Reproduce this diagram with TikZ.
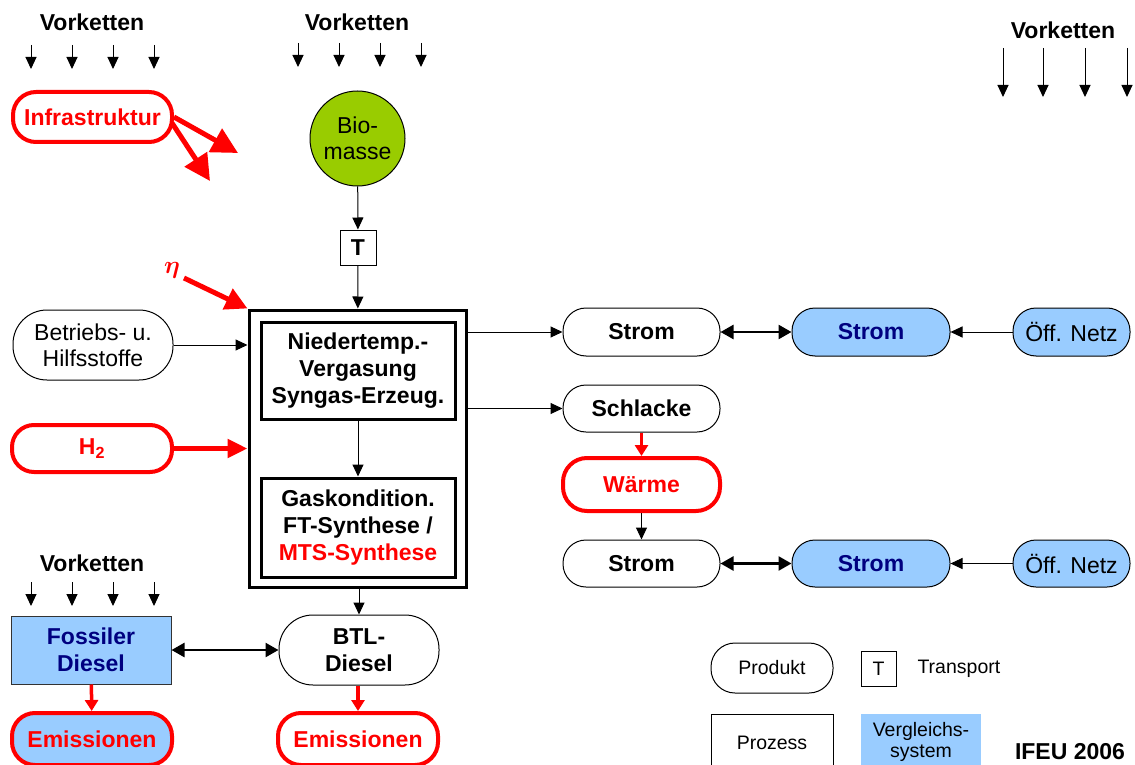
\documentclass[tikz,border=0pt]{standalone}
\usepackage{amsmath}
\usepackage{fontspec}
\setmainfont{Liberation Sans}
\usetikzlibrary{arrows.meta,positioning}
\definecolor{cmpblue}{HTML}{99CCFF}
\definecolor{biogreen}{HTML}{99CC00}
\definecolor{navy}{HTML}{000080}
\definecolor{hot}{HTML}{FF0000}
\tikzset{
  bf/.style={font=\fontsize{23}{27}\selectfont\bfseries, align=center},
  rm/.style={font=\fontsize{23}{26}\selectfont, align=center},
  small/.style={font=\fontsize{19.5}{22}\selectfont, align=center},
  pill/.style={draw, rectangle, rounded corners=#1, inner sep=0pt, line width=1pt},
  redpill/.style={pill=#1, draw=hot, line width=4pt, text=hot},
  sysbox/.style={draw, rectangle, inner sep=0pt, line width=3pt},
  flow/.style={-{Triangle[length=12pt,width=11pt]}, line width=1pt},
  both/.style={{Triangle[length=13pt,width=14pt]}-{Triangle[length=13pt,width=14pt]}, line width=2.5pt},
  redflow/.style={-{Triangle[length=11pt,width=13pt]}, draw=hot, line width=3.5pt},
  bigred/.style={-{Triangle[length=26pt,width=26pt]}, draw=hot, line width=5pt},
}
\begin{document}
\begin{tikzpicture}[x=1pt,y=-1pt]
\useasboundingbox (0,0) rectangle (1135,765);

% upstream chains
\node[bf] (vk1) at (92,22) {Vorketten};
\node[bf] (vk2) at (357,22) {Vorketten};
\node[bf] (vk3) at (1063,30) {Vorketten};
\node[bf] (vk4) at (92,563) {Vorketten};
\foreach \x [count=\i] in {31,72,113,154}{
  \coordinate (a\i s) at (\x,45); \coordinate (a\i e) at (\x,69);
  \draw[flow] (a\i s) -- (a\i e);
  \coordinate (d\i s) at (\x,582); \coordinate (d\i e) at (\x,606);
  \draw[flow] (d\i s) -- (d\i e);
}
\foreach \x [count=\i] in {298,339,380,421}{
  \coordinate (b\i s) at (\x,43); \coordinate (b\i e) at (\x,67);
  \draw[flow] (b\i s) -- (b\i e);
}
\foreach \x [count=\i] in {1003,1043,1085,1127}{
  \coordinate (c\i s) at (\x,48); \coordinate (c\i e) at (\x,97);
  \draw[flow] (c\i s) -- (c\i e);
}

% infrastructure
\node[redpill=23pt, bf, minimum width=159pt, minimum height=50pt] (infra) at (92.5,117) {Infrastruktur};
\coordinate (inA) at (238,153);
\coordinate (inB) at (210,181);
\draw[bigred] (infra.east) -- (inA);
\draw[bigred] ([xshift=-2pt,yshift=-6pt]infra.east) -- (inB);

% biomass and transport
\node[circle, draw, fill=biogreen, minimum size=95pt, inner sep=0pt, rm, line width=1pt] (bio) at (357.5,138.5) {Bio-\\masse};
\node[draw, rectangle, minimum width=36pt, minimum height=35pt, inner sep=0pt, bf, line width=1pt] (T) at (358,247.5) {T};
\draw[flow] (bio) -- (T);

% conversion plant
\node[sysbox, minimum width=217pt, minimum height=277pt] (plant) at (357.5,448.5) {};
\node[sysbox, bf, minimum width=194pt, minimum height=97pt] (gasif) at (358,370.5) {Niedertemp.-\\Vergasung\\Syngas-Erzeug.};
\node[sysbox, bf, minimum width=194pt, minimum height=99pt] (synth) at (358,527.5) {Gaskondition.\\FT-Synthese /\\\textcolor{hot}{MTS-Synthese}};
\draw[flow] (T) -- (plant);
\draw[flow] (gasif) -- (synth);

% efficiency
\node[text=hot, font=\fontsize{30}{30}\selectfont, inner sep=0pt] (eta) at (172,270) {$\boldsymbol{\eta}$};
\coordinate (etaS) at (184,278);
\draw[bigred, -{Triangle[length=22pt,width=22pt]}] (etaS) -- (plant.north west);

% auxiliary inputs
\node[pill=34pt, rm, minimum width=160pt, minimum height=70pt] (aux) at (93,345) {Betriebs- u.\\Hilfsstoffe};
\draw[flow] (aux.east) -- (aux.east -| plant.west);
\node[redpill=22pt, bf, minimum width=160pt, minimum height=47pt] (h2) at (92,448.5) {H\textsubscript{2}};
\draw[bigred, -{Triangle[length=20pt,width=18pt]}] (h2.east) -- (h2.east -| plant.west);

% electricity, upper route
\node[pill=23pt, bf, minimum width=157pt, minimum height=48pt] (str1) at (641.5,332) {Strom};
\node[pill=23pt, bf, fill=cmpblue, text=navy, minimum width=158pt, minimum height=48pt] (strB1) at (871,332) {Strom};
\node[pill=23pt, rm, fill=cmpblue, minimum width=117pt, minimum height=48pt] (net1) at (1071.5,332) {Öff. Netz};
\draw[flow] (str1.west -| plant.east) -- (str1.west);
\draw[both] (str1) -- (strB1);
\draw[flow] (net1) -- (strB1);

% slag route
\node[pill=23pt, bf, minimum width=157pt, minimum height=47pt] (slag) at (641.5,408.5) {Schlacke};
\draw[flow] (slag.west -| plant.east) -- (slag.west);
\node[redpill=24pt, bf, minimum width=157pt, minimum height=53pt] (heat) at (641.5,484.5) {Wärme};
\draw[redflow, line width=3pt] (slag) -- (heat);
\node[pill=23pt, bf, minimum width=157pt, minimum height=47pt] (str2) at (641.5,563.5) {Strom};
\node[pill=23pt, bf, fill=cmpblue, text=navy, minimum width=158pt, minimum height=47pt] (strB2) at (871,563.5) {Strom};
\node[pill=23pt, rm, fill=cmpblue, minimum width=117pt, minimum height=47pt] (net2) at (1071.5,563.5) {Öff. Netz};
\draw[flow] (heat) -- (str2);
\draw[both] (str2) -- (strB2);
\draw[flow] (net2) -- (strB2);

% fuels and emissions
\node[pill=34pt, bf, minimum width=160pt, minimum height=70pt] (btl) at (359,650) {BTL-\\Diesel};
\draw[flow] (plant.south -| btl) -- (btl);
\node[draw=black!80, rectangle, fill=cmpblue, text=navy, bf, line width=1pt, minimum width=160pt, minimum height=68pt, inner sep=0pt] (foss) at (91,650) {Fossiler\\Diesel};
\draw[both] (foss) -- (btl);
\node[redpill=23pt, bf, fill=cmpblue, minimum width=160pt, minimum height=52pt] (em1) at (92,739) {Emissionen};
\node[redpill=23pt, bf, minimum width=160pt, minimum height=52pt] (em2) at (358,739) {Emissionen};
\draw[redflow] (foss) -- (em1);
\draw[redflow] (btl.south -| em2) -- (em2);

% legend
\node[pill=24pt, small, minimum width=122pt, minimum height=50pt] (lgProd) at (772,668) {Produkt};
\node[draw, rectangle, small, line width=1pt, minimum width=35pt, minimum height=35pt, inner sep=0pt] (lgT) at (878.5,668.5) {T};
\node[small, anchor=west] (lgTtxt) at (914,669) {Transport};
\node[draw, rectangle, small, line width=1pt, minimum width=122pt, minimum height=58pt, inner sep=0pt] (lgProc) at (772,743) {Prozess};
\node[rectangle, fill=cmpblue, small, minimum width=120pt, minimum height=56pt, inner sep=0pt, font=\fontsize{19.5}{21}\selectfont] (lgCmp) at (921,742) {Vergleichs-\\system};
\node[bf] (ifeu) at (1070,752) {IFEU 2006};
\end{tikzpicture}
\end{document}
